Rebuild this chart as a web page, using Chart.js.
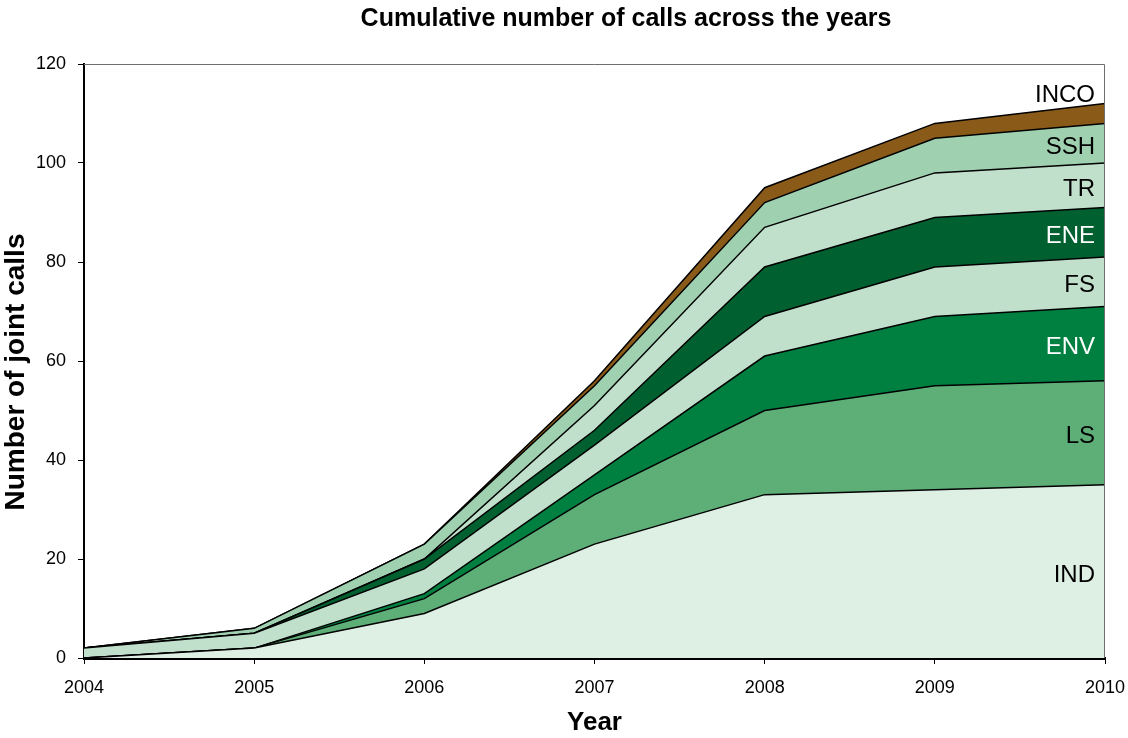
<!DOCTYPE html>
<html>
<head>
<meta charset="utf-8">
<title>Cumulative number of calls</title>
<script src="https://cdn.jsdelivr.net/npm/chart.js@4/dist/chart.umd.min.js"></script>
<style>
    body { margin: 0; background: #fff; }
    #wrap { width: 1128px; height: 738px; }
</style>
</head>
<body>
<div id="wrap"><canvas id="chart"></canvas></div>
<script>
var years = ['2004', '2005', '2006', '2007', '2008', '2009', '2010']

// cumulative calls per theme, listed from the bottom band up
var IND  = [0, 2, 9, 23, 33, 34, 35]
var LS   = [0, 0, 3, 10, 17, 21, 21]
var ENV  = [0, 0, 1, 4, 11, 14, 15]
var FS   = [2, 3, 5, 6, 8, 10, 10]
var ENE  = [0, 0, 2, 3, 10, 10, 10]
var TR   = [0, 0, 0, 5, 8, 9, 9]
var SSH  = [0, 1, 3, 4, 5, 7, 8]
var INCO = [0, 0, 0, 1, 3, 3, 4]

var themes = ['IND', 'LS', 'ENV', 'FS', 'ENE', 'TR', 'SSH', 'INCO']
var series = [IND, LS, ENV, FS, ENE, TR, SSH, INCO]
var yTicks = [0, 20, 40, 60, 80, 100, 120]

var fills = ['#deefe3', '#5eae78', '#008040', '#c0e0cc', '#00602f', '#c0e0cc', '#9fd0b0', '#8a5a19']
var textColors = ['#000', '#000', '#fff', '#000', '#fff', '#000', '#000', '#000']

var FONT = '"Liberation Sans", Arial, sans-serif'
var chartTitle = 'Cumulative number of calls across the years'
var yTitle = 'Number of joint calls'

// top and right edges of the plot frame, plus the two titles
var frame = {
    id: 'frame',
    afterDatasetsDraw: (chart) => {
        var ctx = chart.ctx
        var a = chart.chartArea
        ctx.save()
        ctx.strokeStyle = '#6e6e6e'
        ctx.lineWidth = 1
        ctx.beginPath()
        ctx.moveTo(a.left, a.top + 0.5)
        ctx.lineTo(a.right - 0.5, a.top + 0.5)
        ctx.lineTo(a.right - 0.5, a.bottom)
        ctx.stroke()

        ctx.fillStyle = '#000'
        ctx.textAlign = 'center'
        ctx.textBaseline = 'middle'
        ctx.font = 'bold 25px ' + FONT
        ctx.fillText(chartTitle, 626, 19)

        ctx.translate(16, 372)
        ctx.rotate(-Math.PI / 2)
        ctx.font = 'bold 28px ' + FONT
        ctx.fillText(yTitle, 0, 0)
        ctx.restore()
    }
}

// theme names written inside each band at the right edge
var bandLabels = {
    id: 'bandLabels',
    afterDatasetsDraw: (chart) => {
        var ctx = chart.ctx
        var y = chart.scales.y
        var a = chart.chartArea
        var last = years.length - 1
        var base = 0
        ctx.save()
        ctx.font = '24px ' + FONT
        ctx.textAlign = 'right'
        ctx.textBaseline = 'middle'
        chart.data.datasets.forEach((ds, i) => {
            var top = base + ds.data[last]
            // the thin top band gets its name just above it
            var v = (i === chart.data.datasets.length - 1) ? top + 2.4 : (base + top) / 2
            ctx.fillStyle = textColors[i]
            ctx.fillText(ds.label, a.right - 10, y.getPixelForValue(v) + 4)
            base = top
        })
        ctx.restore()
    }
}

window.onload = () => {
    var ctx = document.getElementById('chart').getContext('2d')
    Chart.defaults.font.family = FONT
    Chart.defaults.color = '#000'

    var datasets = series.map((values, i) => ({
        label: themes[i],
        data: values,
        backgroundColor: fills[i],
        borderColor: '#000',
        borderWidth: 1.5,
        fill: i === 0 ? 'origin' : '-1',
        tension: 0,
        pointRadius: 0,
        pointHoverRadius: 0
    }))

    var chart = new Chart(ctx, {
        type: 'line',
        data: { labels: years, datasets: datasets },
        options: {
            responsive: true,
            maintainAspectRatio: false,
            animation: false,
            layout: { padding: { left: 0, right: 23, top: 64, bottom: 0 } },
            plugins: {
                legend: { display: false },
                tooltip: { enabled: false },
                title: { display: false }
            },
            scales: {
                x: {
                    offset: false,
                    grid: { drawOnChartArea: false, tickLength: 6, color: '#000' },
                    border: { color: '#000', width: 3 },
                    ticks: { font: { size: 18 }, padding: 13, maxRotation: 0 },
                    title: { display: true, text: 'Year', font: { size: 26, weight: 'bold' }, padding: { top: 0, bottom: 0 } },
                    afterFit: (scale) => {
                        scale.height = 80
                        // let the end labels hang past the plot edges
                        scale.paddingLeft = 0
                        scale.paddingRight = 0
                    }
                },
                y: {
                    stacked: true,
                    min: 0,
                    max: 120,
                    afterBuildTicks: (scale) => { scale.ticks = yTicks.map(v => ({ value: v })) },
                    grid: { drawOnChartArea: false, tickLength: 6, color: '#000' },
                    border: { color: '#000', width: 2 },
                    ticks: { font: { size: 18 }, padding: 12 },
                    afterFit: (scale) => { scale.width = 84 }
                }
            }
        },
        plugins: [frame, bandLabels]
    })
}
</script>
</body>
</html>
